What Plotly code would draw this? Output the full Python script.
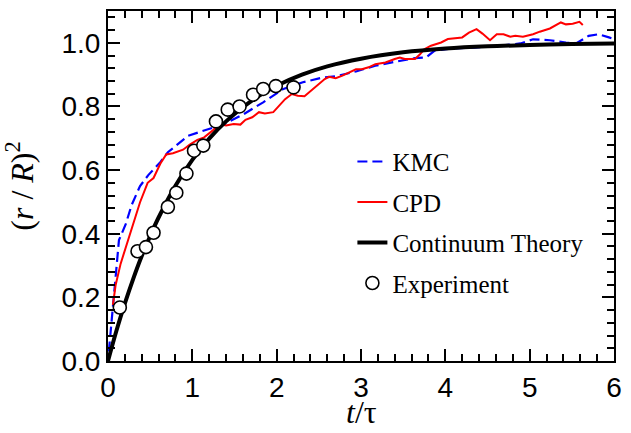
import plotly.graph_objects as go

# ---- data ----
kmc_t = [0.01, 0.05, 0.09, 0.13, 0.21, 0.28, 0.38, 0.48, 0.62, 0.71,
         0.95, 1.18, 1.38, 1.61, 1.84, 2.08, 2.31, 2.55, 2.70, 2.94,
         3.17, 3.40, 3.64, 3.77, 3.87, 4.07, 4.34, 4.65, 4.89, 5.04,
         5.24, 5.43, 5.55, 5.70, 5.82, 5.94, 6.0]
kmc_y = [0.03, 0.15, 0.27, 0.38, 0.43, 0.49, 0.55, 0.585, 0.625, 0.656,
         0.708, 0.729, 0.745, 0.776, 0.813, 0.855, 0.876, 0.891, 0.895, 0.910,
         0.928, 0.940, 0.952, 0.954, 0.975, 0.982, 0.985, 0.991, 0.998, 1.011,
         1.008, 1.001, 0.998, 1.022, 1.027, 1.017, 1.012]

cpd_t = [0.058, 0.09, 0.15, 0.25, 0.38, 0.47, 0.54, 0.62, 0.69, 0.77,
         0.89, 0.97, 1.06, 1.14, 1.24, 1.32, 1.40, 1.49, 1.57, 1.63,
         1.71, 1.79, 1.86, 1.96, 2.02, 2.10, 2.18, 2.25, 2.33, 2.41,
         2.49, 2.57, 2.62, 2.70, 2.78, 2.86, 2.94, 3.01, 3.09, 3.17,
         3.29, 3.40, 3.46, 3.52, 3.64, 3.70, 3.75, 3.83, 3.95, 4.03,
         4.14, 4.20, 4.28, 4.37, 4.44, 4.53, 4.61, 4.69, 4.77, 4.83,
         4.92, 5.04, 5.12, 5.24, 5.37, 5.43, 5.51, 5.59, 5.63]
cpd_y = [0.176, 0.238, 0.306, 0.39, 0.499, 0.56, 0.575, 0.62, 0.649, 0.653,
         0.664, 0.680, 0.695, 0.703, 0.724, 0.745, 0.740, 0.745, 0.743, 0.758,
         0.766, 0.782, 0.778, 0.782, 0.80, 0.823, 0.839, 0.834, 0.832, 0.85,
         0.865, 0.886, 0.893, 0.889, 0.897, 0.907, 0.917, 0.917, 0.923, 0.933,
         0.938, 0.949, 0.954, 0.949, 0.949, 0.964, 0.980, 0.991, 1.001, 1.012,
         1.015, 1.017, 1.032, 1.043, 1.029, 1.008, 1.027, 1.027, 1.019, 1.022,
         1.019, 1.027, 1.035, 1.045, 1.064, 1.058, 1.06, 1.066, 1.056]

theory_t = [0, 0.1, 0.2, 0.3, 0.4, 0.5, 0.6, 0.8, 1.0, 1.2, 1.4, 1.6, 1.8,
            2.0, 2.3, 2.6, 3.0, 3.5, 4.0, 4.5, 5.0, 5.5, 6.0]
theory_y = [0, 0.095, 0.181, 0.259, 0.330, 0.393, 0.451, 0.551, 0.632, 0.699,
            0.753, 0.798, 0.835, 0.865, 0.900, 0.926, 0.950, 0.970, 0.982,
            0.989, 0.993, 0.996, 0.998]

exp_t = [0.14, 0.35, 0.45, 0.54, 0.71, 0.81, 0.93, 1.02, 1.13, 1.28,
         1.42, 1.56, 1.72, 1.84, 1.99, 2.20]
exp_y = [0.168, 0.345, 0.358, 0.403, 0.484, 0.529, 0.589, 0.661, 0.677, 0.753,
         0.790, 0.800, 0.837, 0.855, 0.864, 0.860]

x_ticks = [0, 1, 2, 3, 4, 5, 6]
y_ticks = [0.0, 0.2, 0.4, 0.6, 0.8, 1.0]

fig = go.Figure()
fig.add_trace(go.Scatter(x=kmc_t, y=kmc_y, mode="lines", name="KMC", legendgroup="a",
                         line=dict(color="#0000ff", width=2.2, dash="10px,5px")))
fig.add_trace(go.Scatter(x=cpd_t, y=cpd_y, mode="lines", name="CPD", legendgroup="b",
                         line=dict(color="#ff0000", width=2)))
fig.add_trace(go.Scatter(x=theory_t, y=theory_y, mode="lines", name="Continuum Theory",
                         legendgroup="c",
                         line=dict(color="black", width=4, shape="spline")))
fig.add_trace(go.Scatter(x=exp_t, y=exp_y, mode="markers", name="Experiment", legendgroup="d",
                         marker=dict(symbol="circle", size=13, color="white",
                                     line=dict(color="black", width=1.6))))

axis_common = dict(showline=True, linecolor="black", linewidth=2, mirror="ticks",
                   ticks="inside", tickcolor="black", tickwidth=2, ticklen=12,
                   showgrid=False, zeroline=False,
                   tickfont=dict(family="Liberation Sans, Arial", size=28, color="black"))

fig.update_xaxes(range=[0, 6], tickvals=x_ticks, ticktext=[str(v) for v in x_ticks],
                 minor=dict(ticks="inside", ticklen=7, tickwidth=1.5, tickcolor="black", dtick=0.2),
                 **axis_common)
fig.update_yaxes(range=[0, 1.1], tickvals=y_ticks, ticktext=[f"{v:.1f}" for v in y_ticks],
                 minor=dict(ticks="inside", ticklen=7, tickwidth=1.5, tickcolor="black", dtick=0.04),
                 title=dict(text="(<i>r</i> / <i>R</i>)<sup>2</sup>", standoff=18,
                            font=dict(family="Liberation Serif, Times New Roman", size=32, color="black")),
                 **axis_common)

fig.update_layout(
    width=631, height=433,
    margin=dict(l=108, r=9, t=9, b=72),
    paper_bgcolor="white", plot_bgcolor="white",
    showlegend=True,
    legend=dict(x=0.483, y=0.635, xanchor="left", yanchor="top",
                bgcolor="rgba(0,0,0,0)",
                font=dict(family="Liberation Serif, Times New Roman", size=25, color="black"),
                tracegroupgap=5),
    annotations=[dict(text="<i>t</i>/τ", xref="paper", yref="paper", x=0.5, y=-0.145,
                      xanchor="center", yanchor="middle", showarrow=False,
                      font=dict(family="Liberation Serif, Times New Roman", size=32, color="black"))],
)

fig.write_html("out.html", config={"displayModeBar": False},
               post_script="document.body.style.margin='0';document.body.style.padding='0';")
